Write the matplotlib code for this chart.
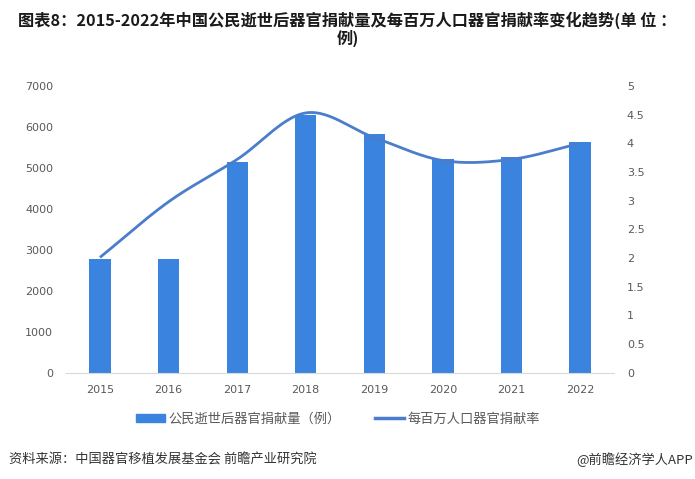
import numpy as np
import matplotlib
matplotlib.use("Agg")
import matplotlib.pyplot as plt
from matplotlib.patches import Rectangle
from matplotlib.lines import Line2D

plt.rcParams['font.family'] = ['Noto Sans CJK SC', 'DejaVu Sans']

years = ['2015', '2016', '2017', '2018', '2019', '2020', '2021', '2022']
donations = [2766, 2766, 5146, 6302, 5818, 5222, 5272, 5628]
rate = [2.01, 2.98, 3.72, 4.53, 4.10, 3.70, 3.72, 4.00]

title = "图表8：2015-2022年中国公民逝世后器官捐献量及每百万人口器官捐献率变化趋势(单 位 ：\n例)"
bar_label = "公民逝世后器官捐献量（例）"
line_label = "每百万人口器官捐献率"
source = "资料来源：中国器官移植发展基金会 前瞻产业研究院"
credit = "@前瞻经济学人APP"

bar_color = "#3A84E0"
line_color = "#4A7DCB"
tick_color = "#595959"

fig = plt.figure(figsize=(6.95, 4.79), dpi=100)
ax = fig.add_axes([0.0945, 0.222, 0.7895, 0.5985])
ax2 = ax.twinx()

x = np.arange(len(years))
ax.bar(x, donations, width=0.31, color=bar_color, zorder=2)
ax.set_xlim(-0.5, len(years) - 0.5)
ax.set_ylim(0, 7000)
ax.set_yticks(np.arange(0, 7001, 1000))
ax.set_xticks(x)
ax.set_xticklabels(years)

# smoothed line (Catmull-Rom through data points, Excel-style smoothing)
def catmull(xs, ys, n=30):
    xs = np.asarray(xs, float); ys = np.asarray(ys, float)
    px = np.concatenate([[2*xs[0]-xs[1]], xs, [2*xs[-1]-xs[-2]]])
    py = np.concatenate([[2*ys[0]-ys[1]], ys, [2*ys[-1]-ys[-2]]])
    ox, oy = [], []
    for i in range(1, len(px) - 2):
        p0, p1, p2, p3 = [np.array([px[j], py[j]]) for j in (i-1, i, i+1, i+2)]
        t = np.linspace(0, 1, n)[:, None]
        c1 = p1 + (p2 - p0) / 6
        c2 = p2 - (p3 - p1) / 6
        pts = (1-t)**3*p1 + 3*(1-t)**2*t*c1 + 3*(1-t)*t**2*c2 + t**3*p2
        ox.extend(pts[:, 0]); oy.extend(pts[:, 1])
    return np.array(ox), np.array(oy)

sx, sy = catmull(x, rate)
ax2.plot(sx, sy, color=line_color, lw=2.0, zorder=3, solid_capstyle='butt')
ax2.set_ylim(0, 5)
ax2.set_yticks(np.arange(0, 5.01, 0.5))
ax2.set_yticklabels([f"{v:g}" for v in np.arange(0, 5.01, 0.5)])

for a in (ax, ax2):
    for s in a.spines.values():
        s.set_visible(False)
    a.tick_params(length=0, colors=tick_color, labelsize=8)
    for lbl in a.get_yticklabels() + a.get_xticklabels():
        lbl.set_family('DejaVu Sans')
ax.spines['bottom'].set_visible(True)
ax.spines['bottom'].set_color('#D9D9D9')
ax.tick_params(axis='y', pad=9)
ax.tick_params(axis='x', pad=9)
ax2.tick_params(axis='y', pad=9)

fig.text(0.5, 0.975, title, ha='center', va='top', fontsize=11.7, fontweight='bold',
         color='#1a1a1a', linespacing=1.0)

# legend
handles = [Rectangle((0, 0), 1, 1, color=bar_color),
           Line2D([0], [0], color=line_color, lw=2.5)]
leg = fig.legend(handles, [bar_label, line_label], loc='center', bbox_to_anchor=(0.486, 0.125),
                 ncol=2, frameon=False, fontsize=9.5, handlelength=2.2, handleheight=0.6,
                 handletextpad=0.25, columnspacing=2.65)
for t in leg.get_texts():
    t.set_color(tick_color)

fig.text(0.013, 0.04, source, ha='left', va='center', fontsize=9.5, color='#333333')
fig.text(0.997, 0.04, credit, ha='right', va='center', fontsize=9.5, color='#333333')

fig.savefig("out.png", dpi=100)
